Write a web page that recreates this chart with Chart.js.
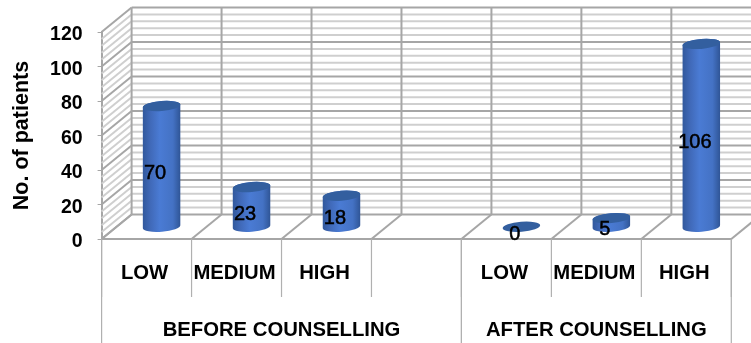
<!DOCTYPE html>
<html>
<head>
<meta charset="utf-8">
<title>No. of patients</title>
<script src="https://cdn.jsdelivr.net/npm/chart.js@4"></script>
<style>
    html, body { margin: 0; padding: 0; background: #fff; }
    #wrap { width: 751px; height: 343px; overflow: hidden; }
</style>
</head>
<body>
<div id="wrap"><canvas id="patientsChart" width="751" height="343"></canvas></div>
<script>
const categories = ['LOW', 'MEDIUM', 'HIGH', '', 'LOW', 'MEDIUM', 'HIGH'];
const patients = [70, 23, 18, null, 0, 5, 106];
const groupNames = ['BEFORE COUNSELLING', 'AFTER COUNSELLING'];
const groupSlots = [4, 3];
const yTicks = [0, 20, 40, 60, 80, 100, 120];
const yMinorStep = 4;

const FONT = '"Liberation Sans", Arial, sans-serif';
const MAJOR = '#a6a6a6';
const MINOR = '#cfcfcf';
const DEPTH_X = 30;
const DEPTH_Y = 24.5;

function line(ctx, x1, y1, x2, y2) {
    ctx.beginPath();
    ctx.moveTo(x1, y1);
    ctx.lineTo(x2, y2);
    ctx.stroke();
}

// back wall, side wall and floor of the 3d box
const wallsPlugin = {
    id: 'walls',
    beforeDatasetsDraw(chart) {
        const {ctx, scales: {x, y}} = chart;
        const left = x.left;
        const backRight = x.right + DEPTH_X;
        ctx.save();
        ctx.lineWidth = 2;
        for (let v = 0; v <= 120; v += yMinorStep) {
            if (v % 20 === 0) continue;
            const py = y.getPixelForValue(v);
            ctx.strokeStyle = MINOR;
            line(ctx, left, py, left + DEPTH_X, py - DEPTH_Y);
            line(ctx, left + DEPTH_X, py - DEPTH_Y, backRight, py - DEPTH_Y);
        }
        ctx.strokeStyle = MAJOR;
        yTicks.forEach((v) => {
            const py = y.getPixelForValue(v);
            line(ctx, left, py, left + DEPTH_X, py - DEPTH_Y);
            line(ctx, left + DEPTH_X, py - DEPTH_Y, backRight, py - DEPTH_Y);
        });
        for (let i = 0; i <= categories.length; i++) {
            const px = x.getPixelForValue(i - 0.5);
            line(ctx, px + DEPTH_X, y.top - DEPTH_Y, px + DEPTH_X, y.bottom - DEPTH_Y);
            line(ctx, px, y.bottom, px + DEPTH_X, y.bottom - DEPTH_Y);
        }
        ctx.restore();
    }
};

// cylinders on top of the invisible bars, with the value written on them
const cylinderPlugin = {
    id: 'cylinders',
    afterDatasetsDraw(chart) {
        const {ctx, scales: {y}} = chart;
        const rx = 18.8, ry = 5, tilt = -0.08;
        chart.getDatasetMeta(0).data.forEach((bar, i) => {
            const value = patients[i];
            if (value === null) return;
            const cx = bar.x + DEPTH_X / 2;
            const base = y.getPixelForValue(0) - DEPTH_Y / 2;
            const top = y.getPixelForValue(value) - DEPTH_Y / 2;

            const grad = ctx.createLinearGradient(cx - rx, 0, cx + rx, 0);
            grad.addColorStop(0, '#31589c');
            grad.addColorStop(0.2, '#4069b8');
            grad.addColorStop(0.45, '#4a7bd4');
            grad.addColorStop(0.8, '#4472c4');
            grad.addColorStop(1, '#2f5596');

            ctx.save();
            if (value > 0) {
                ctx.fillStyle = grad;
                ctx.beginPath();
                ctx.ellipse(cx, base, rx, ry, tilt, 0, Math.PI);
                ctx.ellipse(cx, top, rx, ry, tilt, Math.PI, Math.PI * 2);
                ctx.closePath();
                ctx.fill();
            }
            ctx.fillStyle = '#335f9f';
            ctx.beginPath();
            ctx.ellipse(cx, top, rx, ry, tilt, 0, Math.PI * 2);
            ctx.fill();

            ctx.fillStyle = '#000';
            ctx.strokeStyle = '#000';
            ctx.lineWidth = 0.5;
            ctx.font = '20px ' + FONT;
            ctx.textAlign = 'center';
            ctx.textBaseline = 'middle';
            ctx.fillText(String(value), cx - 6.5, (top + base) / 2 + 7.5);
            ctx.strokeText(String(value), cx - 6.5, (top + base) / 2 + 7.5);
            ctx.restore();
        });
    }
};

// separators below the axis and the two group names
const groupAxisPlugin = {
    id: 'groupAxis',
    afterDraw(chart) {
        const {ctx, scales: {x}} = chart;
        const bottom = x.top;
        ctx.save();
        ctx.strokeStyle = '#b0b0b0';
        ctx.lineWidth = 1.2;
        for (let i = 0; i <= categories.length; i++) {
            line(ctx, x.getPixelForValue(i - 0.5), bottom, x.getPixelForValue(i - 0.5), bottom + 58);
        }
        ctx.fillStyle = '#000';
        ctx.font = 'bold 20.3px ' + FONT;
        ctx.textAlign = 'center';
        ctx.textBaseline = 'middle';
        let start = 0;
        groupNames.forEach((name, g) => {
            const end = start + groupSlots[g];
            const x1 = x.getPixelForValue(start - 0.5);
            const x2 = x.getPixelForValue(end - 0.5);
            line(ctx, x1, bottom, x1, bottom + 104);
            line(ctx, x2, bottom, x2, bottom + 104);
            ctx.fillText(name, (x1 + x2) / 2, bottom + 91);
            start = end;
        });
        ctx.restore();
    }
};

function setupChart() {
    const ctx = document.getElementById('patientsChart');
    return new Chart(ctx, {
        type: 'bar',
        data: {
            labels: categories,
            datasets: [{
                label: 'No. of patients',
                data: patients,
                backgroundColor: 'rgba(0,0,0,0)'
            }]
        },
        plugins: [wallsPlugin, cylinderPlugin, groupAxisPlugin],
        options: {
            responsive: false,
            animation: false,
            layout: {padding: {top: 32, right: 19.7, left: 0, bottom: 0}},
            plugins: {legend: {display: false}, tooltip: {enabled: false}},
            scales: {
                x: {
                    afterFit: (scale) => { scale.height = 104; },
                    grid: {display: false},
                    border: {display: true, color: MAJOR, width: 2},
                    ticks: {
                        color: '#000',
                        font: {family: FONT, size: 20.3, weight: 'bold'},
                        padding: 14,
                        labelOffset: -2,
                        maxRotation: 0,
                        autoSkip: false
                    }
                },
                y: {
                    min: 0,
                    max: 120,
                    afterFit: (scale) => { scale.width = 101.6; },
                    afterBuildTicks: (scale) => { scale.ticks = yTicks.map((value) => ({value})); },
                    grid: {drawOnChartArea: false, tickLength: 4, tickColor: MAJOR},
                    border: {display: true, color: MAJOR, width: 2},
                    title: {
                        display: true,
                        text: 'No. of patients',
                        color: '#000',
                        font: {family: FONT, size: 21.5, weight: 'bold'},
                        padding: {top: 9, bottom: 0}
                    },
                    ticks: {
                        color: '#000',
                        font: {family: FONT, size: 19.5, weight: 'bold'},
                        padding: 15,
                        labelOffset: 3
                    }
                }
            }
        }
    });
}

setupChart();
</script>
</body>
</html>
